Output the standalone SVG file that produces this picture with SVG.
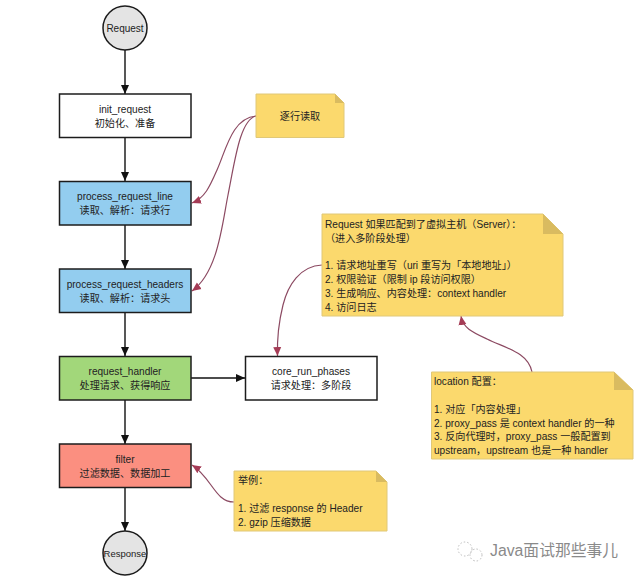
<svg xmlns="http://www.w3.org/2000/svg" width="640" height="579" viewBox="0 0 640 579">
<style>
text{font-family:"Liberation Sans","Noto Sans CJK SC",sans-serif;font-size:10.1px;fill:#222}
.c{text-anchor:middle}
.box{stroke:#1c1c1c;stroke-width:1.5}
.circ{fill:#e4e4e4;stroke:#1c1c1c;stroke-width:1.5}
.note{fill:#fbd96d;stroke:#e0c878;stroke-width:1}
.fold{fill:#d9bb60}
.flow{fill:none;stroke:#111;stroke-width:1.4;marker-end:url(#a)}
.red{fill:none;stroke:#8c4a62;stroke-width:1.2;marker-end:url(#b)}
.wm{font-size:15.8px;fill:#8a8a8a}
</style>
<defs>
<marker id="a" markerUnits="userSpaceOnUse" markerWidth="10" markerHeight="10" refX="9" refY="5" orient="auto"><path d="M0 1L9 5L0 9Z" fill="#111"/></marker>
<marker id="b" markerUnits="userSpaceOnUse" markerWidth="10" markerHeight="10" refX="9" refY="5" orient="auto"><path d="M0 1L9 5L0 9Z" fill="#a53c56"/></marker>
</defs>
<rect width="640" height="579" fill="#fff"/>
<g id="connectors">
<path class="flow" d="M125 50V94"/>
<path class="flow" d="M125 137V181"/>
<path class="flow" d="M125 225V269"/>
<path class="flow" d="M125 312V356"/>
<path class="flow" d="M125 400V444"/>
<path class="flow" d="M125 487V531"/>
<path class="flow" d="M191 378H245"/>
<path class="red" d="M256 116C232 118 226 150 217 170C210 186 205 198 192 203"/>
<path class="red" d="M256 116C240 120 235 160 228 195C222 225 218 272 192 291"/>
<path class="red" d="M322 265C300 266 288 285 283 305C278 325 277 340 277.500 356"/>
<path class="red" d="M234 502C215 502 212 478 192 465"/>
<path class="red" d="M532 372C528 352 505 348 487 339C472 332 463 328 461 316"/>
</g>
<g id="request"><circle class="circ" cx="125" cy="28" r="22"/><text class="c" x="125" y="32" style="font-size:10px">Request</text></g>
<g id="init_request"><rect class="box" x="59.5" y="94" width="131.500" height="43.500" fill="#fff"/><text class="c" x="125" y="113">init_request</text><text class="c" x="125" y="127">初始化、准备</text></g>
<g id="process_request_line"><rect class="box" x="59.5" y="181.500" width="131.500" height="43.500" fill="#93cdef"/><text class="c" x="125" y="200">process_request_line</text><text class="c" x="125" y="214">读取、解析：请求行</text></g>
<g id="process_request_headers"><rect class="box" x="59.5" y="269" width="131.500" height="43.500" fill="#93cdef"/><text class="c" x="125" y="288">process_request_headers</text><text class="c" x="125" y="302">读取、解析：请求头</text></g>
<g id="request_handler"><rect class="box" x="59.5" y="356.500" width="131.500" height="43.500" fill="#a2d77a"/><text class="c" x="125" y="375">request_handler</text><text class="c" x="125" y="389">处理请求、获得响应</text></g>
<g id="core_run_phases"><rect class="box" x="245.500" y="356.500" width="131.500" height="43.500" fill="#fff"/><text class="c" x="311" y="375">core_run_phases</text><text class="c" x="311" y="389">请求处理：多阶段</text></g>
<g id="filter"><rect class="box" x="59.5" y="444" width="131.500" height="43.500" fill="#fb8f80"/><text class="c" x="125" y="463">filter</text><text class="c" x="125" y="477">过滤数据、数据加工</text></g>
<g id="response"><circle class="circ" cx="125" cy="553" r="22"/><text class="c" x="125" y="557" style="font-size:9.500px">Response</text></g>
<g id="note-read"><path class="note" d="M256 94H335L344 103V137.500H256Z"/><path class="fold" d="M335 94L344 103H335Z"/><text class="c" x="300" y="120">逐行读取</text></g>
<g id="note-server"><path class="note" d="M322 214H543L563 234V316H322Z"/><path class="fold" d="M543 214L563 234H543Z"/>
<text x="325" y="228">Request 如果匹配到了虚拟主机（Server）：</text>
<text x="325" y="242">（进入多阶段处理）</text>
<text x="325" y="269">1. 请求地址重写（uri 重写为「本地地址」）</text>
<text x="325" y="283">2. 权限验证（限制 ip 段访问权限）</text>
<text x="325" y="297">3. 生成响应、内容处理：context handler</text>
<text x="325" y="311">4. 访问日志</text></g>
<g id="note-location"><path class="note" d="M431.500 372H614L633 390V459H431.500Z"/><path class="fold" d="M614 372L633 390H614Z"/>
<text x="434" y="385">location 配置：</text>
<text x="434" y="413">1. 对应「内容处理」</text>
<text x="434" y="427">2. proxy_pass 是 context handler 的一种</text>
<text x="434" y="440">3. 反向代理时，proxy_pass 一般配置到</text>
<text x="434" y="454">upstream，upstream 也是一种 handler</text></g>
<g id="note-filter"><path class="note" d="M234 471H376L387 482V531H234Z"/><path class="fold" d="M376 471L387 482H376Z"/>
<text x="238" y="484">举例：</text>
<text x="238" y="512">1. 过滤 response 的 Header</text>
<text x="238" y="526">2. gzip 压缩数据</text></g>
<g id="watermark"><circle cx="465" cy="549" r="7" fill="none" stroke="#bbb" stroke-dasharray="1.500 2"/><circle cx="476" cy="555" r="6" fill="none" stroke="#bbb" stroke-dasharray="1.500 2"/><text class="wm" x="490" y="556">Java面试那些事儿</text></g>
</svg>
